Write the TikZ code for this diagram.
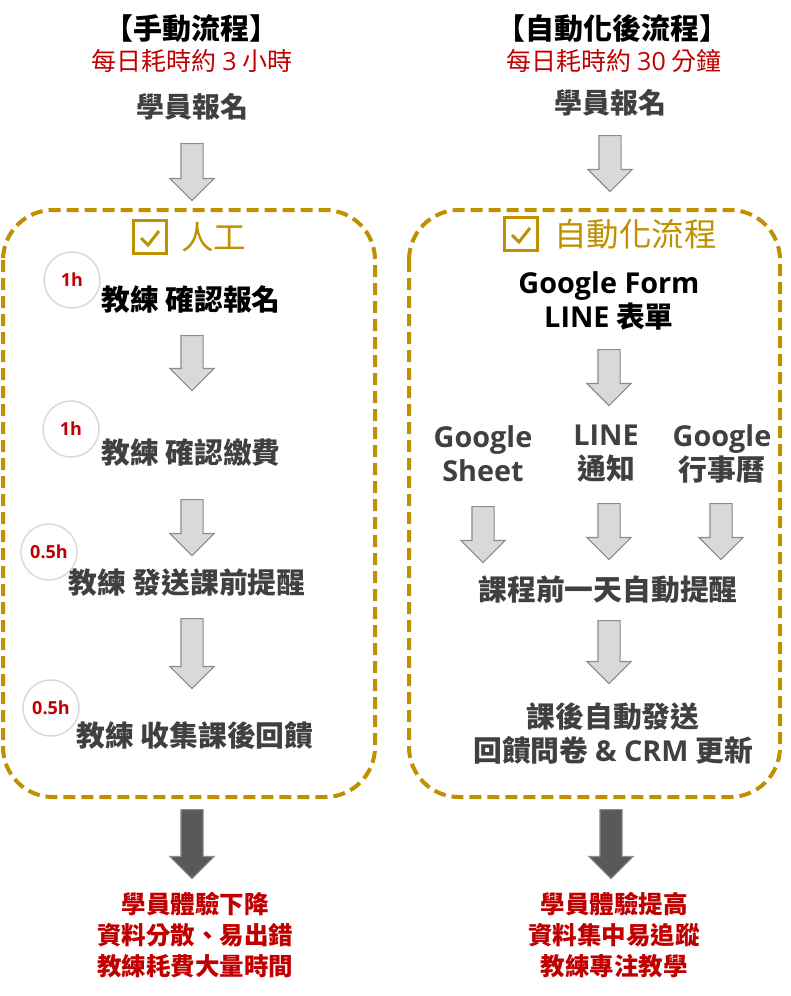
\documentclass[tikz,border=0pt]{standalone}
\usepackage{fontspec}
\setmainfont{Noto Sans CJK TC}
\newfontfamily\latin{Open Sans}
\usetikzlibrary{shapes.arrows, positioning, calc}

\definecolor{gold}{HTML}{BF9000}
\definecolor{alert}{HTML}{C00000}
\definecolor{ink}{HTML}{404040}
\definecolor{arrfill}{HTML}{D9D9D9}
\definecolor{arredge}{HTML}{8C8C8C}
\definecolor{arrdark}{HTML}{595959}

\begin{document}
\begin{tikzpicture}[
    x=1pt, y=-1pt,
    darr/.style={single arrow, draw=arredge, fill=arrfill, line width=1.2pt, shape border rotate=270,
      minimum width=43pt, single arrow head extend=11pt, inner sep=10.5pt, anchor=tail},
    dark/.style={fill=arrdark, draw=arredge},
    hdr/.style={text=black, font=\bfseries\fontsize{29}{29}\selectfont},
    hdrb/.style={text=ink, font=\bfseries\fontsize{28}{28}\selectfont},
    sub/.style={text=alert, font=\fontsize{25}{25}\selectfont},
    grp/.style={text=gold, font=\fontsize{32.5}{32.5}\selectfont, anchor=west, inner sep=0pt},
    chk/.style={draw=gold, line width=3pt, minimum size=33pt, inner sep=0pt},
    tick/.style={draw=gold, line width=3pt},
    flow/.style={draw=gold, line width=4pt, dash pattern=on 12pt off 6pt, rounded corners=50pt},
    task/.style={text=ink, align=center, font=\bfseries\fontsize{28.8}{34}\selectfont},
    tag/.style={circle, draw=arrfill, line width=1.5pt, minimum size=56pt, inner sep=0pt, text=alert,
      font=\latin\bfseries\fontsize{18}{18}\selectfont},
    res/.style={text=alert, align=center, font=\bfseries\fontsize{24.5}{31}\selectfont}
  ]
  \useasboundingbox (0,0) rectangle (791,996);

  % --- naglowki ---
  \node[hdr] (hL) at (191,28) {【手動流程】};
  \node[sub] (sL) at (192,61) {每日耗時約 {\latin 3} 小時};
  \node[hdrb] (rL) at (192,107) {學員報名};
  \node[hdr] (hR) at (612,28) {【自動化後流程】};
  \node[sub] (sR) at (614,61) {每日耗時約 {\latin 30} 分鐘};
  \node[hdrb] (rR) at (610,103) {學員報名};
  \node[darr, minimum height=57pt] (aL0) at (192,143) {};
  \node[darr, minimum height=56pt] (aR0) at (610,135) {};

  % --- ramki ---
  \draw[flow] (3,210) rectangle (375,797);
  \draw[flow] (409,210) rectangle (780,797);
  \node[chk] (cL) at (150,237) {};
  \draw[tick] ($(cL.center)+(-9,1)$) -- ++(7,7) -- ++(11,-14);
  \node[grp] (gL) at (181,237) {人工};
  \node[chk] (cR) at (521,234) {};
  \draw[tick] ($(cR.center)+(-9,1)$) -- ++(7,7) -- ++(11,-14);
  \node[grp] (gR) at (554,234) {自動化流程};

  % --- lewa kolumna ---
  \node[tag] (t1) at (72,280) {1h};
  \node[task, text=black] (s1) at (191,300) {教練 確認報名};
  \node[darr, minimum height=55pt] (aL1) at (192,335) {};
  \node[tag] (t2) at (71,429) {1h};
  \node[task] (s2) at (191,453) {教練 確認繳費};
  \node[darr, minimum height=56pt] (aL2) at (192,499) {};
  \node[tag] (t3) at (49,552) {0.5h};
  \node[task] (s3) at (187,583) {教練 發送課前提醒};
  \node[darr, minimum height=70pt] (aL3) at (192,618) {};
  \node[tag] (t4) at (51,708) {0.5h};
  \node[task] (s4) at (195,735) {教練 收集課後回饋};

  % --- prawa kolumna ---
  \node[task, text=black] (fm) at (609,301) {{\latin Google Form}\\{\latin LINE} 表單};
  \node[darr, minimum height=56pt] (aR1) at (609,349) {};
  \node[task] (gs) at (483,454) {{\latin Google}\\{\latin Sheet}};
  \node[task] (ln) at (606,454) {{\latin LINE}\\通知};
  \node[task] (gc) at (722,454) {{\latin Google}\\行事曆};
  \node[darr, minimum height=56pt] (aR2) at (483,506) {};
  \node[darr, minimum height=56pt] (aR3) at (609,503) {};
  \node[darr, minimum height=56pt] (aR4) at (721,503) {};
  \node[task] (rm) at (608,590) {課程前一天自動提醒};
  \node[darr, minimum height=63pt] (aR5) at (609,620) {};
  \node[task] (fb) at (613,733) {課後自動發送\\回饋問卷 {\latin \& CRM} 更新};

  % --- wyniki ---
  \node[darr, dark, minimum height=69pt] (aL4) at (192,809) {};
  \node[darr, dark, minimum height=69pt] (aR6) at (611,809) {};
  \node[res] (oL) at (195,935) {學員體驗下降\\資料分散、易出錯\\教練耗費大量時間};
  \node[res] (oR) at (614,935) {學員體驗提高\\資料集中易追蹤\\教練專注教學};
\end{tikzpicture}
\end{document}
